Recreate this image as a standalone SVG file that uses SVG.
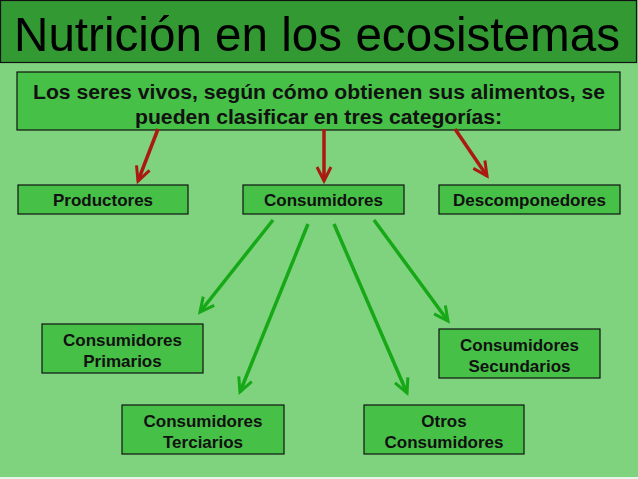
<svg xmlns="http://www.w3.org/2000/svg" width="638" height="479" viewBox="0 0 638 479">
<style>
.box{fill:#46c046;stroke:#111;stroke-width:1.2}
.t{font-family:"Liberation Sans",Arial,sans-serif;font-weight:bold;font-size:17px;fill:#111;text-anchor:middle}
.t.big{font-size:20px}
.red{stroke:#aa1a10;stroke-width:3.5;fill:none}
.grn{stroke:#16a816;stroke-width:3.5;fill:none}
</style>
<defs>
<marker id="mr" markerUnits="userSpaceOnUse" viewBox="-16 -10 20 20" refX="0" refY="0" markerWidth="20" markerHeight="20" orient="auto">
<path d="M-14,-7 L0,0 L-14,7" fill="none" stroke="#aa1a10" stroke-width="3"/>
</marker>
<marker id="mg" markerUnits="userSpaceOnUse" viewBox="-16 -10 20 20" refX="0" refY="0" markerWidth="20" markerHeight="20" orient="auto">
<path d="M-14,-7 L0,0 L-14,7" fill="none" stroke="#16a816" stroke-width="3"/>
</marker>
</defs>
<rect x="0" y="0" width="638" height="479" fill="#7fd37f"/>
<rect x="0" y="477" width="638" height="2" fill="#e6f5e6"/>
<g id="title">
<rect x="0.5" y="0.5" width="636" height="62" fill="#339933" stroke="#111" stroke-width="1.2"/>
<text x="14" y="51" font-family="'Liberation Sans',Arial,sans-serif" font-size="49" fill="#000" textLength="606" lengthAdjust="spacingAndGlyphs">Nutrición en los ecosistemas</text>
</g>
<g id="intro">
<rect class="box" x="17" y="72" width="603" height="58"/>
<text class="t big" x="319" y="99" textLength="572" lengthAdjust="spacingAndGlyphs">Los seres vivos, según cómo obtienen sus alimentos, se</text>
<text class="t big" x="318.5" y="124" textLength="367" lengthAdjust="spacingAndGlyphs">pueden clasificar en tres categorías:</text>
</g>
<g id="connectors">
<line class="red" x1="158" y1="129" x2="138" y2="181" marker-end="url(#mr)"/>
<line class="red" x1="324" y1="129" x2="324" y2="181" marker-end="url(#mr)"/>
<line class="red" x1="455" y1="129" x2="487" y2="176" marker-end="url(#mr)"/>
<line class="grn" x1="273" y1="220" x2="200" y2="312" marker-end="url(#mg)"/>
<line class="grn" x1="308" y1="224" x2="240" y2="392" marker-end="url(#mg)"/>
<line class="grn" x1="334" y1="224" x2="407" y2="393" marker-end="url(#mg)"/>
<line class="grn" x1="374" y1="220" x2="448" y2="321" marker-end="url(#mg)"/>
</g>
<g id="productores">
<rect class="box" x="18" y="185" width="170" height="29"/>
<text class="t" x="103" y="206">Productores</text>
</g>
<g id="consumidores">
<rect class="box" x="243" y="185" width="161" height="29"/>
<text class="t" x="323.5" y="206">Consumidores</text>
</g>
<g id="descomponedores">
<rect class="box" x="439" y="185" width="181" height="29"/>
<text class="t" x="529.5" y="206">Descomponedores</text>
</g>
<g id="primarios">
<rect class="box" x="42" y="324" width="161" height="49"/>
<text class="t" x="122.5" y="346">Consumidores</text>
<text class="t" x="122.5" y="367">Primarios</text>
</g>
<g id="secundarios">
<rect class="box" x="439" y="329" width="161" height="49"/>
<text class="t" x="519.5" y="351">Consumidores</text>
<text class="t" x="519.5" y="372">Secundarios</text>
</g>
<g id="terciarios">
<rect class="box" x="122" y="405" width="162" height="49"/>
<text class="t" x="203" y="427">Consumidores</text>
<text class="t" x="203" y="448">Terciarios</text>
</g>
<g id="otros">
<rect class="box" x="364" y="405" width="160" height="49"/>
<text class="t" x="444" y="427">Otros</text>
<text class="t" x="444" y="448">Consumidores</text>
</g>
</svg>
